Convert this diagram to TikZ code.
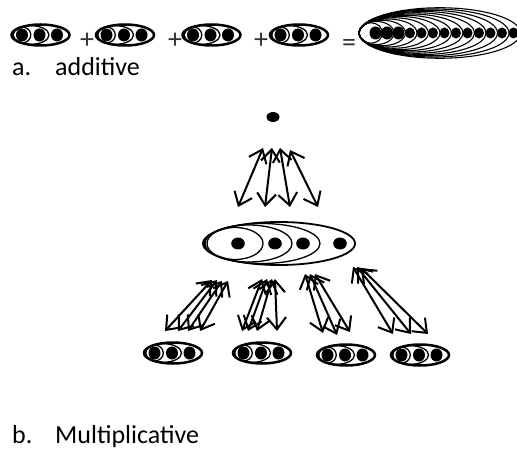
\documentclass[tikz,border=0pt]{standalone}
\usepackage{fontspec}
\setmainfont{Carlito}
\usetikzlibrary{arrows.meta,shapes.geometric}
\begin{document}
\begin{tikzpicture}[x=1pt,y=-1pt,
  outerline/.style={line width=2.5pt},
  innerline/.style={line width=1.3pt},
  bigline/.style={line width=1.1pt},
  dbl/.style={line width=2pt,
    {Straight Barb[length=12pt,width=19pt]}-{Straight Barb[length=12pt,width=19pt]}},
  itemtext/.style={font=\fontsize{26}{30}\selectfont, inner sep=0pt, anchor=base west},
  op/.style={font=\fontsize{28}{30}\selectfont, inner sep=0pt, text=black!80},
  % three dots, each new one wrapped together with the previous ones
  trio/.pic={
    \draw[innerline] (-18.5,0) ellipse [x radius=8.8, y radius=8];
    \draw[innerline] (-9.5,0) ellipse [x radius=18, y radius=9.3];
    \draw[outerline] (0,0) ellipse [x radius=29, y radius=10.5];
    \fill (-18.5,0) ellipse [x radius=6, y radius=6.5];
    \fill (-1,0) ellipse [x radius=6, y radius=6.5];
    \fill (16.5,0) ellipse [x radius=6, y radius=6.5];
  },
  % four dots, nested in the same way
  quad/.pic={
    \draw[innerline] (-44,0) ellipse [x radius=28, y radius=16];
    \draw[innerline] (-30.5,0) ellipse [x radius=43.5, y radius=18.5];
    \draw[innerline] (-17,0) ellipse [x radius=58, y radius=20];
    \draw[line width=1.8pt] (0,0) ellipse [x radius=76, y radius=21.5];
    \foreach \dx in {-41,-4,24,61}
      \fill (\dx,0) ellipse [x radius=6.8, y radius=6];
  },
]
\useasboundingbox (0,0) rectangle (517,449);
\begin{scope}
\clip (0,0) rectangle (517,449);

% additive row
\pic (u1) at (40.5,35) {trio};
\pic (u2) at (125,35) {trio};
\pic (u3) at (211.5,35) {trio};
\pic (u4) at (299,35) {trio};
\node[op] (p1) at (87,41) {+};
\node[op] (p2) at (175,41) {+};
\node[op] (p3) at (261,41) {+};
\node[op] (eq) at (349,45) {=};

% the sum: twelve dots, each one adding a larger wrapping ellipse
\foreach \k in {1,...,13} {
  \pgfmathsetmacro\R{371+11.5*\k}
  \draw[bigline] ({(359+\R)/2},33) ellipse [x radius={(\R-359)/2}, y radius={9+1.25*\k}];
}
\foreach \k in {1,...,3}
  \fill ({364+11.5*\k},33) ellipse [x radius=6, y radius=6.5];
\foreach \k in {4,...,13}
  \fill ({364+11.5*\k},33) ellipse [x radius=5, y radius=5.5];
\coordinate (sum) at (440,33);
\end{scope}

\node[itemtext] (la) at (12,76) {a.};
\node[itemtext] (lat) at (55,76) {additive};

% multiplicative: one unit, the group, and its copies
\node[fill, ellipse, inner sep=0pt, minimum width=13pt, minimum height=10pt] (apex) at (273,117) {};
\pic (mid) at (279,243.5) {quad};
\pic (m1) at (173,353) {trio};
\pic (m2) at (262,353) {trio};
\pic (m3) at (346,355) {trio};
\pic (m4) at (420,355) {trio};

\foreach \n/\tx/\ty/\bx/\by in {
  a1/263/148/238/207, a2/272/148/265/207, a3/280/148/290/207, a4/290/150/318/207,
  g1/212/280/165/331, g2/217/280/178/331, g3/222/281/188/331, g4/228/281/200/331,
  h1/262/279/242/331, h2/267/279/248/331, h3/272/279/257/331, h4/275/279/277/331,
  i1/305/274/323/333, i2/310/274/337/335, i3/315/274/350/332,
  j1/353/267/393/334, j2/357/267/411/334, j3/361/268/428/334} {
  \coordinate (t\n) at (\tx,\ty);
  \coordinate (b\n) at (\bx,\by);
  \draw[dbl] (t\n) -- (b\n);
}

\node[itemtext] (lb) at (12,443) {b.};
\node[itemtext] (lbt) at (55,443) {Multiplicative};
\end{tikzpicture}
\end{document}
